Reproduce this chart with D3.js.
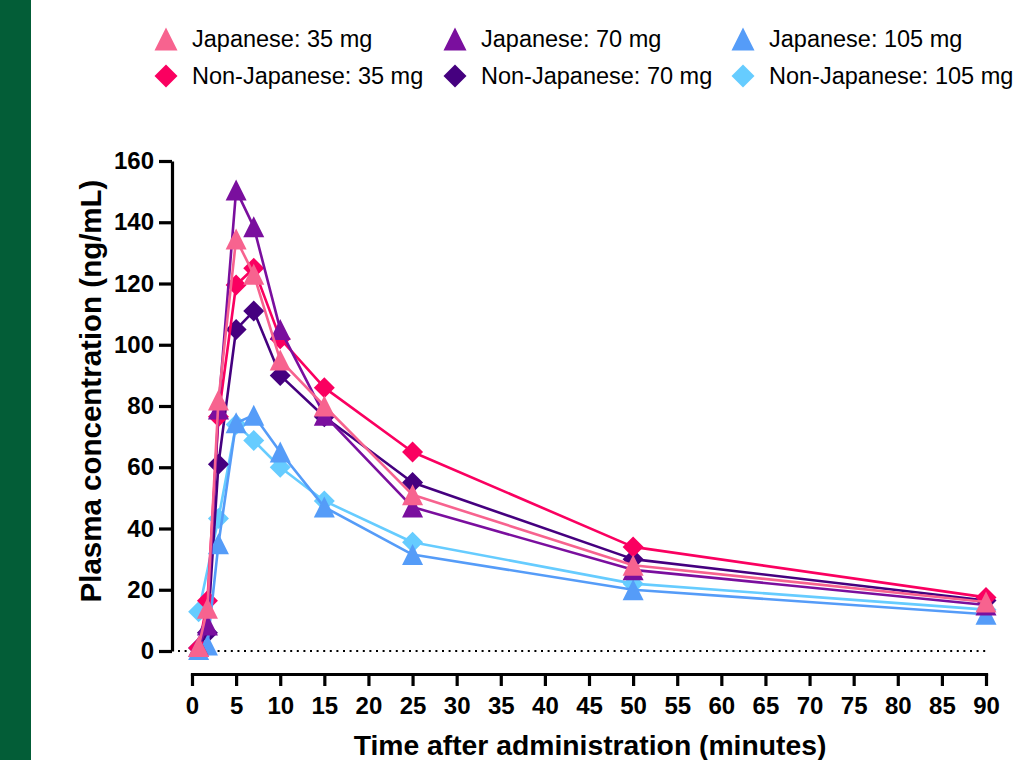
<!DOCTYPE html>
<html>
<head>
<meta charset="utf-8">
<script src="https://cdn.jsdelivr.net/npm/d3@7"></script>
<style>
  html, body { margin: 0; padding: 0; background: #fff; }
  svg { display: block; font-family: "Liberation Sans", Arial, sans-serif; }
</style>
</head>
<body>
<svg id="chart" width="1020" height="760"></svg>
<script>
// ---- data ----
const times = [0.75, 1.75, 3, 5, 7, 10, 15, 25, 50, 90];
const seriesNames = ["Non-Japanese: 105 mg", "Non-Japanese: 70 mg", "Non-Japanese: 35 mg",
                     "Japanese: 105 mg", "Japanese: 70 mg", "Japanese: 35 mg"];
const nonJ105 = [12.8, null, 43.3, 74, 68.7, 60, 49, 35.5, 22, 13.5];
const nonJ70  = [1, 6, 61, 105, 111, 90, 76.5, 55, 30, 16.5];
const nonJ35  = [1, 16.4, 76.5, 119.5, 125, 102, 86, 65, 34, 17.5];
const j105    = [0.5, 2, 35, 74.5, 77, 65, 47, 31.5, 20, 12];
const j70     = [1.5, 8.5, 79, 150.5, 138.5, 105, 77, 47, 26.5, 15];
const j35     = [1.5, 14, 82, 134.5, 123, 95, 80, 51, 28, 16];
const seriesValues = [nonJ105, nonJ70, nonJ35, j105, j70, j35];
const seriesColors = ["#66CCFF", "#45007F", "#FA0060", "#559CF8", "#7A0F9E", "#F7638F"];
const seriesShapes = ["diamond", "diamond", "diamond", "triangle", "triangle", "triangle"];
const xTicks = d3.range(0, 91, 5);
const yTicks = d3.range(0, 161, 20);
const legendOrder = [[5, 2], [4, 1], [3, 0]]; // columns: [row1, row2]

// ---- layout ----
const svg = d3.select("#chart");
svg.append("rect").attr("x", 0).attr("y", 0).attr("width", 31).attr("height", 760).attr("fill", "#035D37");

const x = d3.scaleLinear().domain([0, 90]).range([192, 986]);
const y = d3.scaleLinear().domain([0, 160]).range([651, 161]);

function shapePath(shape, s) {
  const h = s / 2;
  if (shape === "triangle") return `M0,${-h}L${h},${h}L${-h},${h}Z`;
  return `M0,${-h}L${h},0L0,${h}L${-h},0Z`;
}

// zero dotted line
svg.append("line")
  .attr("x1", 178).attr("x2", x(90)).attr("y1", y(0)).attr("y2", y(0))
  .attr("stroke", "#000").attr("stroke-width", 2).attr("stroke-dasharray", "2,4.6");

// y axis
const yAxis = svg.append("g").attr("transform", "translate(172,0)")
  .call(d3.axisLeft(y).tickValues(yTicks).tickSize(13).tickSizeOuter(0).tickPadding(5));
yAxis.select(".domain").attr("stroke-width", 3.2).attr("stroke", "#000");
yAxis.selectAll(".tick line").attr("stroke-width", 3.2).attr("stroke", "#000");
yAxis.selectAll(".tick text").attr("font-size", 24).attr("font-weight", "bold").attr("fill", "#000")
  .attr("font-family", "'Liberation Sans', Arial, sans-serif");

// x axis
const xAxis = svg.append("g").attr("transform", "translate(0,674)")
  .call(d3.axisBottom(x).tickValues(xTicks).tickSize(12).tickSizeOuter(0).tickPadding(11));
xAxis.select(".domain").attr("stroke-width", 3.2).attr("stroke", "#000").attr("stroke-linecap", "square");
xAxis.selectAll(".tick line").attr("stroke-width", 3.2).attr("stroke", "#000");
xAxis.selectAll(".tick text").attr("font-size", 24).attr("font-weight", "bold").attr("fill", "#000")
  .attr("font-family", "'Liberation Sans', Arial, sans-serif");

// axis titles
svg.append("text").attr("x", 590).attr("y", 755).attr("text-anchor", "middle")
  .attr("font-size", 28.3).attr("font-weight", "bold").text("Time after administration (minutes)");
svg.append("text").attr("transform", "translate(101,391) rotate(-90)").attr("text-anchor", "middle")
  .attr("font-size", 29.5).attr("font-weight", "bold").text("Plasma concentration (ng/mL)");

// series
const line = d3.line().x(d => x(d[0])).y(d => y(d[1]));
seriesValues.forEach((vals, i) => {
  const pts = times.map((t, k) => [t, vals[k]]).filter(d => d[1] !== null);
  const g = svg.append("g");
  g.append("path").datum(pts).attr("d", line).attr("fill", "none")
    .attr("stroke", seriesColors[i]).attr("stroke-width", 2.6).attr("stroke-linejoin", "round");
  g.selectAll("path.m").data(pts).enter().append("path").attr("class", "m")
    .attr("transform", d => `translate(${x(d[0])},${y(d[1])})`)
    .attr("d", shapePath(seriesShapes[i], 21))
    .attr("fill", seriesColors[i]);
});

// legend
const colX = [166, 455, 743];
const rowY = [39, 76];
legendOrder.forEach((col, c) => {
  col.forEach((si, r) => {
    const g = svg.append("g").attr("transform", `translate(${colX[c]},${rowY[r]})`);
    g.append("path").attr("d", shapePath(seriesShapes[si], 23)).attr("fill", seriesColors[si]);
    g.append("text").attr("x", 26).attr("y", 0).attr("dy", "0.36em")
      .attr("font-size", 23.5).attr("fill", "#000").text(seriesNames[si]);
  });
});
</script>
</body>
</html>
